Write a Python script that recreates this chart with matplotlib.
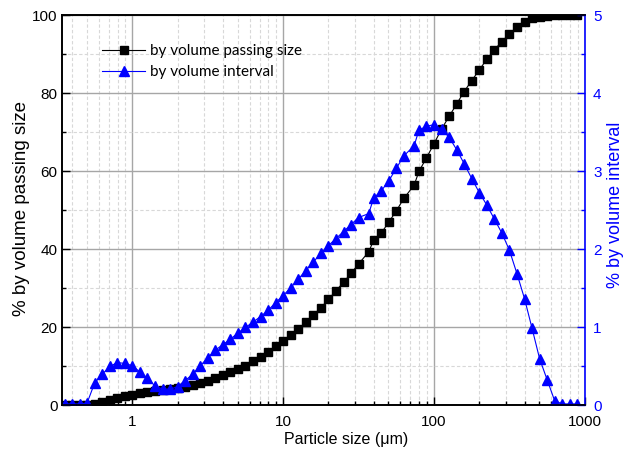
import matplotlib
matplotlib.use("Agg")
import matplotlib.pyplot as plt
from matplotlib.ticker import LogLocator, MultipleLocator, NullFormatter, FixedLocator, FixedFormatter

plt.rcParams['font.family'] = ['Liberation Sans', 'DejaVu Sans']

size_um = [0.356, 0.399, 0.448, 0.502, 0.564, 0.632, 0.710, 0.796, 0.893,
           1.002, 1.125, 1.262, 1.416, 1.589, 1.783, 2.000, 2.244, 2.518, 2.825,
           3.170, 3.557, 3.991, 4.477, 5.024, 5.637, 6.325, 7.096, 7.962, 8.934,
           10.024, 11.247, 12.619, 14.159, 15.887, 17.825, 20.000, 22.440, 25.179,
           28.251, 31.698, 37.0, 39.905, 44.774, 50.238, 56.368, 63.246, 74.0,
           79.621, 89.337, 100.237, 112.468, 126.191, 141.589, 158.866, 178.250,
           200.000, 224.404, 251.785, 282.508, 316.979, 355.656, 399.052, 447.744,
           502.377, 563.677, 632.456, 709.627, 796.214, 893.367]

passing = [0, 0, 0, 0.1, 0.4, 0.9, 1.4, 1.9, 2.4,
           2.8, 3.2, 3.5, 3.8, 4.0, 4.2, 4.5, 4.8, 5.3, 5.8,
           6.4, 7.0, 7.7, 8.5, 9.4, 10.2, 11.4, 12.5, 13.8, 15.2,
           16.6, 18.0, 19.5, 21.3, 23.2, 25.1, 27.2, 29.4, 31.6,
           33.9, 36.3, 39.4, 42.4, 44.2, 47.0, 49.9, 53.1, 56.5,
           60.0, 63.5, 67.1, 70.9, 74.1, 77.3, 80.5, 83.3,
           86.0, 88.8, 91.2, 93.3, 95.3, 97.0, 98.4, 99.3,
           99.7, 99.9, 100, 100, 100, 100]

interval = [0.02, 0.02, 0.02, 0.03, 0.29, 0.40, 0.50, 0.55, 0.54,
            0.51, 0.43, 0.35, 0.25, 0.21, 0.21, 0.24, 0.32, 0.40, 0.51,
            0.61, 0.71, 0.78, 0.85, 0.93, 1.00, 1.07, 1.14, 1.22, 1.32,
            1.41, 1.51, 1.62, 1.73, 1.84, 1.95, 2.05, 2.14, 2.23,
            2.32, 2.41, 2.46, 2.66, 2.75, 2.88, 3.04, 3.20, 3.33,
            3.53, 3.58, 3.60, 3.54, 3.44, 3.28, 3.10, 2.91,
            2.73, 2.57, 2.39, 2.21, 1.99, 1.69, 1.37, 0.99,
            0.60, 0.33, 0.06, 0.02, 0.02, 0.02]

x_ticks = [1, 10, 100, 1000]
x_ticklabels = ["1", "10", "100", "1000"]

fig = plt.figure(figsize=(6.26, 4.55), dpi=100)
ax1 = fig.add_axes([0.0998, 0.1088, 0.934 - 0.0998, 0.966 - 0.1088])
ax2 = ax1.twinx()

blue = '#0000ff'

l1, = ax1.plot(size_um, passing, color='black', lw=0.8, marker='s', ms=6,
               markerfacecolor='black', markeredgecolor='black',
               label='by volume passing size')
l2, = ax2.plot(size_um, interval, color=blue, lw=0.8, marker='^', ms=7,
               markerfacecolor=blue, markeredgecolor=blue,
               label='by volume interval')

ax1.set_xscale('log')
ax1.set_xlim(0.345, 1000)
ax1.set_ylim(0, 100)
ax2.set_ylim(0, 5)

ax1.xaxis.set_major_locator(FixedLocator(x_ticks))
ax1.xaxis.set_major_formatter(FixedFormatter(x_ticklabels))
ax1.xaxis.set_minor_locator(LogLocator(base=10, subs=range(2, 10), numticks=20))
ax1.xaxis.set_minor_formatter(NullFormatter())
ax1.yaxis.set_major_locator(MultipleLocator(20))
ax1.yaxis.set_minor_locator(MultipleLocator(10))
ax2.yaxis.set_major_locator(MultipleLocator(1))
ax2.yaxis.set_minor_locator(MultipleLocator(0.5))

ax1.grid(True, which='major', color='#a6a6a6', lw=1.0, ls='-')
ax1.grid(True, which='minor', color='#d8d8d8', lw=0.8, ls=(0, (3, 2)))
ax1.set_axisbelow(True)

ax1.tick_params(axis='both', which='major', direction='in', length=6, width=1,
                labelsize=11, top=False, right=False)
ax1.tick_params(axis='x', which='major', pad=7)
ax1.tick_params(axis='both', which='minor', direction='in', length=3, width=1,
                top=False, right=False)
ax2.tick_params(axis='y', which='major', direction='in', length=6, width=1,
                colors=blue, labelsize=11, pad=6)
ax2.tick_params(axis='y', which='minor', direction='in', length=3, width=1,
                colors=blue)

for s in ['left', 'bottom', 'top']:
    ax1.spines[s].set_linewidth(1.2)
    ax2.spines[s].set_linewidth(1.2)
ax2.spines['right'].set_color(blue)
ax2.spines['right'].set_linewidth(1.2)
ax1.spines['right'].set_visible(False)

ax1.set_xlabel('Particle size (μm)', fontsize=11.5)
ax1.set_ylabel('% by volume passing size', fontsize=13.5)
ax2.set_ylabel('% by volume interval', fontsize=13, color=blue)
ax1.xaxis.set_label_coords(0.543, -0.068)
ax1.yaxis.set_label_coords(-0.062, 0.505)
ax2.yaxis.set_label_coords(1.043, 0.515)

leg = ax2.legend(handles=[l1, l2], loc='upper left', bbox_to_anchor=(0.05, 0.962),
                 frameon=False, handlelength=2.8, handletextpad=0.35,
                 labelspacing=0.45, prop={'family': 'Lato', 'size': 11})

fig.savefig('out.png', dpi=100)
